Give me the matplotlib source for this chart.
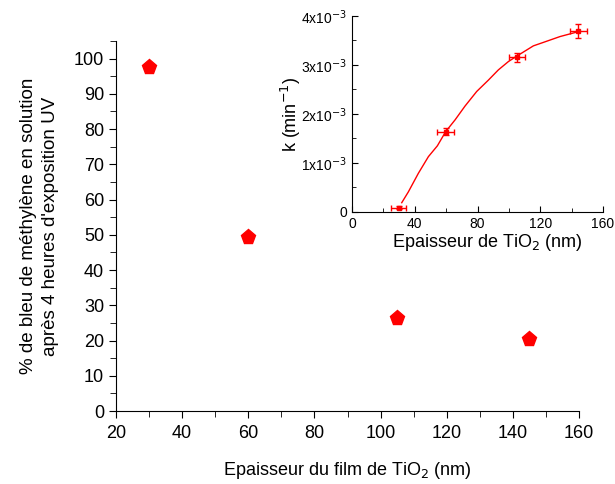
import numpy as np
import matplotlib.pyplot as plt
from matplotlib.ticker import MultipleLocator, FuncFormatter

plt.rcParams['font.family'] = ['Liberation Sans', 'DejaVu Sans']

# donnees principales
epaisseur = [30, 60, 105, 145]
pourcent_bleu = [97.5, 49.3, 26.3, 20.3]

# donnees de l'encart
k_epaisseur = [29.9, 59.7, 105, 144.3]
k_valeurs = [0.088e-3, 1.64e-3, 3.16e-3, 3.69e-3]
k_xerr = [4.8, 5.3, 5.0, 5.3]
k_yerr = [0.03e-3, 0.07e-3, 0.09e-3, 0.14e-3]
# courbe d'ajustement
fit_x = [31.7, 35.9, 42.3, 48.7, 54.4, 59.7, 65.7, 72.0, 79.5, 86.9,
         93.3, 99.7, 105.0, 115.6, 121.9, 132.6, 144.3]
fit_y = [0.19e-3, 0.41e-3, 0.79e-3, 1.13e-3, 1.35e-3, 1.64e-3, 1.88e-3, 2.16e-3,
         2.46e-3, 2.69e-3, 2.90e-3, 3.07e-3, 3.18e-3, 3.39e-3, 3.46e-3, 3.58e-3, 3.68e-3]

fig = plt.figure(figsize=(6.15, 4.84), dpi=100)
ax = fig.add_axes([0.1886, 0.1508, 0.7529, 0.7645])
ax.plot(epaisseur, pourcent_bleu, linestyle='none', marker='p', markersize=11,
        color='red', markeredgecolor='red')
ax.set_xlim(20, 160)
ax.set_ylim(0, 105)
ax.spines['top'].set_visible(False)
ax.spines['right'].set_visible(False)
ax.xaxis.set_major_locator(MultipleLocator(20))
ax.xaxis.set_minor_locator(MultipleLocator(10))
ax.yaxis.set_major_locator(MultipleLocator(10))
ax.yaxis.set_minor_locator(MultipleLocator(5))
ax.tick_params(which='both', direction='out', labelsize=13)
ax.tick_params(which='major', length=5)
ax.tick_params(which='minor', length=4)
ax.tick_params(axis='x', pad=5)
ax.set_xlabel("Epaisseur du film de TiO$_2$ (nm)", fontsize=13, labelpad=13)
ax.set_ylabel("% de bleu de méthylène en solution\naprès 4 heures d'exposition UV",
              fontsize=13.5, linespacing=1.35)
ax.yaxis.set_label_coords(-0.123, 0.5)

# encart
ins = fig.add_axes([0.5724, 0.562, 0.4081, 0.405])
ins.plot(fit_x, fit_y, color='red', linewidth=1)
ins.errorbar(k_epaisseur, k_valeurs, xerr=k_xerr, yerr=k_yerr, fmt='s', markersize=3,
             color='red', ecolor='red', elinewidth=1, capsize=2)
ins.set_xlim(0, 160)
ins.set_ylim(0, 4e-3)
ins.spines['top'].set_visible(False)
ins.spines['right'].set_visible(False)
ins.xaxis.set_major_locator(MultipleLocator(40))
ins.xaxis.set_minor_locator(MultipleLocator(20))
ins.yaxis.set_major_locator(MultipleLocator(1e-3))
ins.yaxis.set_minor_locator(MultipleLocator(0.5e-3))

def fmt_k(v, pos):
    n = int(round(v * 1e3))
    if n == 0:
        return "0"
    return r"%dx10$^{-3}$" % n

ins.yaxis.set_major_formatter(FuncFormatter(fmt_k))
ins.tick_params(which='both', direction='in', labelsize=10)
ins.tick_params(which='major', length=4)
ins.tick_params(which='minor', length=3)
ins.set_xlabel("Epaisseur de TiO$_2$ (nm)", fontsize=13, labelpad=1)
ins.xaxis.set_label_coords(0.54, -0.1)
ins.set_ylabel("k (min$^{-1}$)", fontsize=13)
ins.yaxis.set_label_coords(-0.195, 0.5)

fig.savefig("out.png", dpi=100)
